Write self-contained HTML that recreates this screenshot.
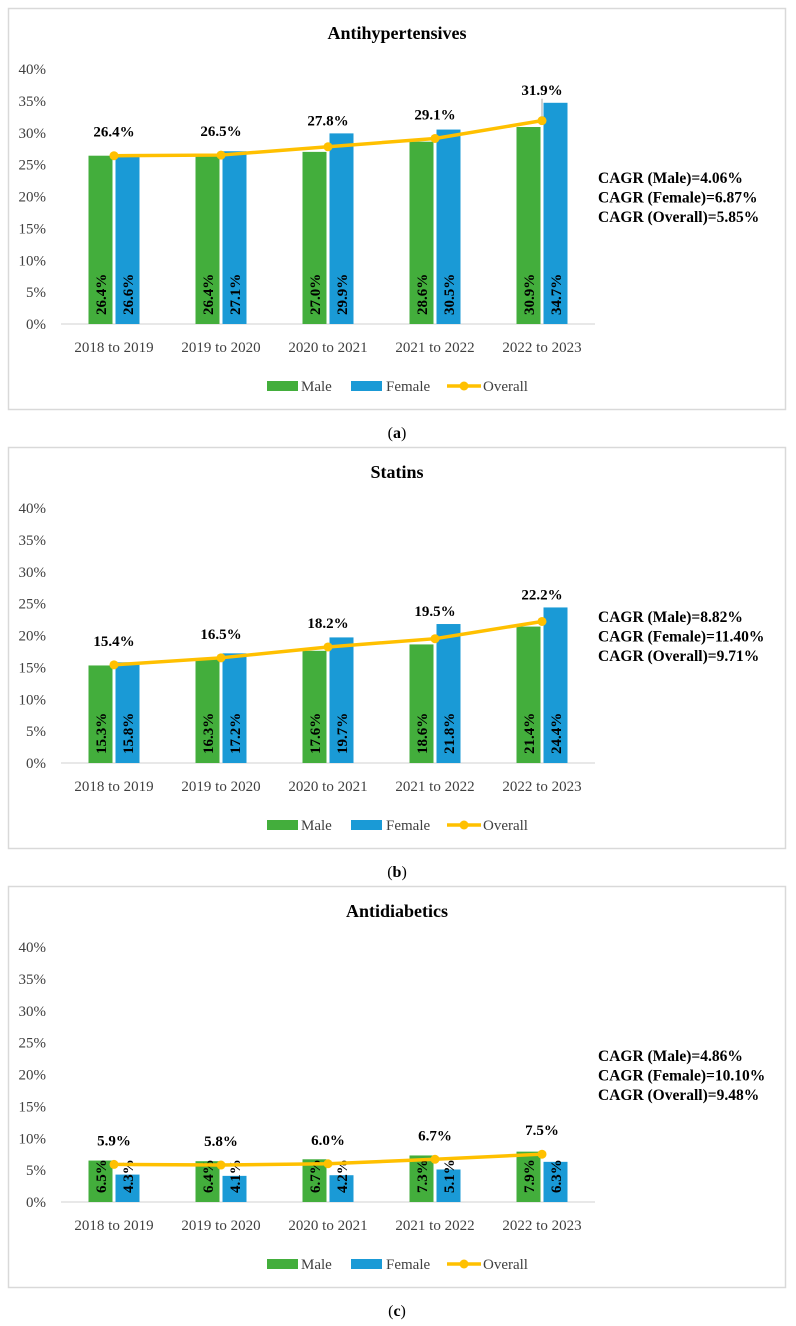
<!DOCTYPE html>
<html><head><meta charset="utf-8">
<style>
html,body{margin:0;padding:0;background:#fff;}
svg{display:block;font-family:"Liberation Serif",serif;}
</style></head>
<body>
<svg id="chart" width="796" height="1326" viewBox="0 0 796 1326" xmlns="http://www.w3.org/2000/svg"></svg>
<script>
const categories = ["2018 to 2019","2019 to 2020","2020 to 2021","2021 to 2022","2022 to 2023"];
const yTicks = [0,5,10,15,20,25,30,35,40];
const titles = ["Antihypertensives","Statins","Antidiabetics"];
const panelLetters = ["a","b","c"];
const maleA = [26.4,26.4,27.0,28.6,30.9];
const femaleA = [26.6,27.1,29.9,30.5,34.7];
const overallA = [26.4,26.5,27.8,29.1,31.9];
const maleB = [15.3,16.3,17.6,18.6,21.4];
const femaleB = [15.8,17.2,19.7,21.8,24.4];
const overallB = [15.4,16.5,18.2,19.5,22.2];
const maleC = [6.5,6.4,6.7,7.3,7.9];
const femaleC = [4.3,4.1,4.2,5.1,6.3];
const overallC = [5.9,5.8,6.0,6.7,7.5];
const cagrA = ["CAGR (Male)=4.06%","CAGR (Female)=6.87%","CAGR (Overall)=5.85%"];
const cagrB = ["CAGR (Male)=8.82%","CAGR (Female)=11.40%","CAGR (Overall)=9.71%"];
const cagrC = ["CAGR (Male)=4.86%","CAGR (Female)=10.10%","CAGR (Overall)=9.48%"];

const NS="http://www.w3.org/2000/svg";
const svg=document.getElementById('chart');
function mk(tag,attrs,parent,text){const e=document.createElementNS(NS,tag);for(const k in attrs)e.setAttribute(k,attrs[k]);if(text!==undefined)e.textContent=text;(parent||svg).appendChild(e);return e;}

const GREEN="#43AE3C",BLUE="#1A9AD6",GOLD="#FFC000";
function panel(idx,male,female,overall,cagr){
  const off=idx*439;
  const g=mk('g',{});
  
  
  const fr=mk('rect',{x:8.5,y:8.5+off,width:777,height:401,fill:'#fff',stroke:'#d9d9d9','stroke-width':1.5},g);
  
  
  const t=mk('text',{x:397,y:39+off,'text-anchor':'middle','font-size':18,'font-weight':'bold',fill:'#000'},g,titles[idx]);
  
  
  const y0=324+off, pxPer=255/40;
  const yS=v=>y0-v*pxPer;
  const xS=i=>114+i*107;
  yTicks.forEach(v=>{
    const l=mk('text',{x:46,y:yS(v)+5,'text-anchor':'end','font-size':15,fill:'#404040'},g,v+'%');
    
    
  });
  const ax=mk('line',{x1:61,x2:595,y1:y0,y2:y0,stroke:'#d9d9d9','stroke-width':1.2},g);
  
  
  categories.forEach((c,i)=>{
    const l=mk('text',{x:xS(i),y:y0+28,'text-anchor':'middle','font-size':15,fill:'#404040'},g,c);
    
    
    [[male,GREEN,-13.5,'bar-male'],[female,BLUE,13.5,'bar-female']].forEach(([arr,col,dx,nm])=>{
      const v=arr[i],bx=xS(i)+dx-12;
      const b=mk('rect',{x:bx,y:yS(v),width:24,height:v*pxPer,fill:col},g);
      
      
      const tx=xS(i)+dx+5.5, ty=y0-9;
      const bl=mk('text',{x:tx,y:ty,transform:`rotate(-90 ${tx} ${ty})`,'font-size':15,'font-weight':'bold',fill:'#000'},g,v.toFixed(1)+'%');
      
      
    });
  });
  const pts=overall.map((v,i)=>xS(i)+','+yS(v)).join(' ');
  const pl=mk('polyline',{points:pts,fill:'none',stroke:GOLD,'stroke-width':3.5,'stroke-linejoin':'round'},g);
  
  
  overall.forEach((v,i)=>{
    const c=mk('circle',{cx:xS(i),cy:yS(v),r:4.5,fill:GOLD},g);
    
    
    const ly=Math.min(yS(v)-19,yS(female[i])-8);
    if(yS(v)-ly>24){
      const ll=mk('line',{x1:xS(i),x2:xS(i),y1:ly+4,y2:yS(v)-4,stroke:'#a6a6a6','stroke-width':1},g);
      
      
    }
    const tl=mk('text',{x:xS(i),y:ly,'text-anchor':'middle','font-size':15,'font-weight':'bold',fill:'#000'},g,v.toFixed(1)+'%');
    
    
  });
  cagr.forEach((s,k)=>{
    const ct=mk('text',{x:598,y:183+k*19.5+off,'font-size':15.5,'font-weight':'bold',fill:'#000'},g,s);
    
    
  });
  const ly=386+off;
  const lg=mk('g',{},g);
  
  
  const r1=mk('rect',{x:267,y:ly-5,width:31,height:10,fill:GREEN},lg);
  
  
  const t1=mk('text',{x:301,y:ly+5,'font-size':15,fill:'#404040'},lg,'Male');
  
  
  const r2=mk('rect',{x:351,y:ly-5,width:31,height:10,fill:BLUE},lg);
  
  
  const t2=mk('text',{x:386,y:ly+5,'font-size':15,fill:'#404040'},lg,'Female');
  
  
  const l3=mk('line',{x1:447,x2:481,y1:ly,y2:ly,stroke:GOLD,'stroke-width':3.5},lg);
  
  
  mk('circle',{cx:464,cy:ly,r:4.5,fill:GOLD},lg);
  const t3=mk('text',{x:483,y:ly+5,'font-size':15,fill:'#404040'},lg,'Overall');
  
  
  const cap=mk('text',{x:397,y:438+off,'text-anchor':'middle','font-size':16,fill:'#000'},g);
  
  
  mk('tspan',{},cap,'(');
  mk('tspan',{'font-weight':'bold'},cap,panelLetters[idx]);
  mk('tspan',{},cap,')');
}
panel(0,maleA,femaleA,overallA,cagrA);
panel(1,maleB,femaleB,overallB,cagrB);
panel(2,maleC,femaleC,overallC,cagrC);
</script>
</body></html>
